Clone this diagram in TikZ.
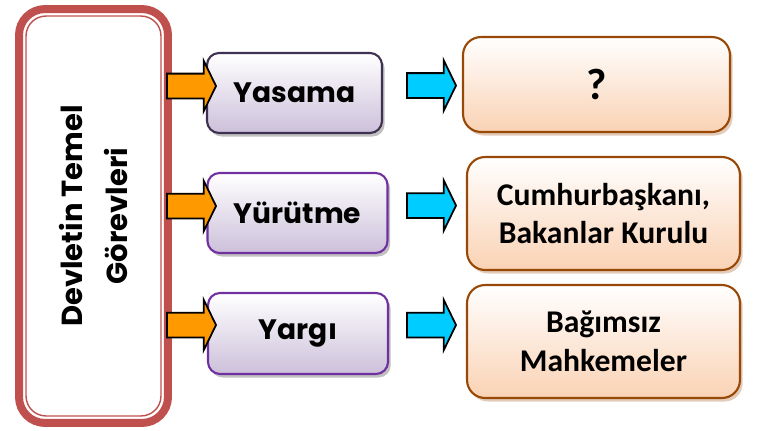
\documentclass[tikz,border=0pt]{standalone}
\usepackage{fontspec}
\setmainfont{Carlito}
\newfontfamily\comicfont{Poppins}
\usepackage{tikz}
\usetikzlibrary{positioning, shapes, shapes.arrows, shadows}
\definecolor{gred}{HTML}{C0504D}
\definecolor{ydark}{HTML}{3F3151}
\definecolor{ypurple}{HTML}{7030A0}
\definecolor{ylav}{HTML}{CCC0DA}
\definecolor{sbrown}{HTML}{984807}
\definecolor{speach}{HTML}{FAD2B4}
\definecolor{aorange}{HTML}{FF9900}
\definecolor{acyan}{HTML}{00CCFF}
\tikzset{bigbox/.style={draw=gred, line width=0.16cm, rounded corners=0.52cm, minimum width=2.98cm, minimum height=8.28cm, inner sep=0}}
\tikzset{bigin/.style={draw=gred, line width=0.8pt, rounded corners=0.4cm, minimum width=2.7cm, minimum height=8cm, inner sep=0}}
\tikzset{gbox/.style={draw=ypurple, line width=1.2pt, rounded corners=0.24cm, top color=white, bottom color=ylav, minimum width=3.6cm, minimum height=1.6cm, font=\comicfont\bfseries\fontsize{16}{19}\selectfont, drop shadow={shadow xshift=1.5pt, shadow yshift=-2pt, opacity=0.45, fill=black!55}}}
\tikzset{sbox/.style={draw=sbrown, line width=1.2pt, rounded corners=0.36cm, top color=white, bottom color=speach, minimum width=5.46cm, minimum height=2.26cm, align=center, font=\bfseries\fontsize{18}{22}\selectfont, drop shadow={shadow xshift=1.5pt, shadow yshift=-2pt, opacity=0.4, fill=sbrown!70}}}
\tikzset{barr/.style={single arrow, draw=black, line width=1pt, inner xsep=0, inner ysep=0.23cm, minimum height=0.98cm, single arrow head extend=0.26cm, single arrow tip angle=128}}
\tikzset{oarr/.style={barr, fill=aorange}}
\tikzset{carr/.style={barr, fill=acyan}}

\begin{document}
\begin{tikzpicture}[x=0.02cm, y=-0.02cm]
	\useasboundingbox (0,0) rectangle (758,430);
	% sol kutu
	\node[bigbox] (gorev) at (93.5,216) {};
	\node[bigin] (gorevin) at (gorev) {};
	\node[rotate=90, align=center, font=\comicfont\bfseries\fontsize{16.5}{26}\selectfont] (gorevtxt) at (gorev) {Devletin Temel\\Görevleri};
	%
	\node[gbox, draw=ydark, minimum width=3.5cm] (yas) at (294.5,93) {Yasama};
	\node[gbox] (yur) at (297.5,213) {Yürütme};
	\node[gbox, minimum height=1.62cm] (yar) at (298,333.5) {Yargı};
	%
	\node[sbox, minimum width=5.34cm, minimum height=1.9cm, font=\bfseries\fontsize{25}{28}\selectfont] (soru) at (596.5,84.5) {?};
	\node[sbox] (bak) at (603.5,213.5) {Cumhurbaşkanı,\\Bakanlar Kurulu};
	\node[sbox] (mah) at (603.5,341.5) {Bağımsız\\Mahkemeler};
	% oklar
	\node[oarr] (o1) at (188.5,86) {};
	\node[oarr] (o2) at (188.5,206) {};
	\node[oarr] (o3) at (188.5,325) {};
	\node[carr] (c1) at (428.5,85.5) {};
	\node[carr] (c2) at (428.5,205.5) {};
	\node[carr] (c3) at (428.5,325) {};
\end{tikzpicture}
\end{document}
